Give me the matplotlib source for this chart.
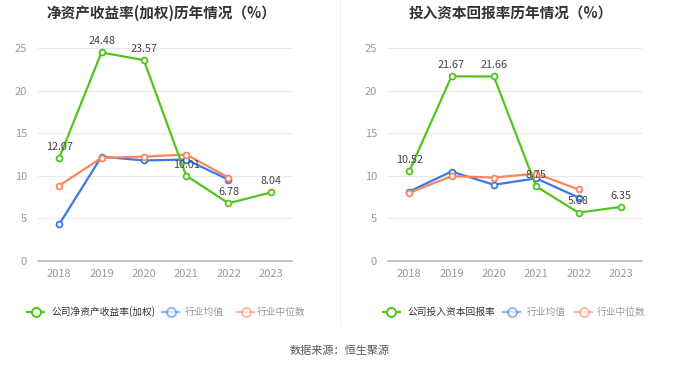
import matplotlib
matplotlib.use("Agg")
import matplotlib.pyplot as plt
from matplotlib.lines import Line2D

plt.rcParams['font.family'] = ['Noto Sans CJK SC', 'DejaVu Sans']

years = ["2018", "2019", "2020", "2021", "2022", "2023"]

roe_company = [12.07, 24.48, 23.57, 10.01, 6.78, 8.04]
roe_avg = [4.3, 12.25, 11.8, 11.9, 9.55]
roe_median = [8.85, 12.1, 12.25, 12.5, 9.8]

roic_company = [10.52, 21.67, 21.66, 8.75, 5.68, 6.35]
roic_avg = [8.15, 10.5, 8.95, 9.7, 7.45]
roic_median = [8.0, 9.95, 9.8, 10.25, 8.4]

titles = ["净资产收益率(加权)历年情况（%）", "投入资本回报率历年情况（%）"]
legend_labels = [["公司净资产收益率(加权)", "行业均值", "行业中位数"],
                 ["公司投入资本回报率", "行业均值", "行业中位数"]]
source = "数据来源：恒生聚源"

GREEN = "#52c41a"
BLUE = "#3a78e8"
ORANGE = "#f5875e"

W, H = 680, 367
fig = plt.figure(figsize=(6.8, 3.67), dpi=100)


def px(x, y):
    return x / W, 1 - y / H


panels = [
    (38, 292, roe_company, roe_avg, roe_median),
    (388, 642, roic_company, roic_avg, roic_median),
]

for i, (x0, x1, comp, avg, med) in enumerate(panels):
    ax = fig.add_axes([x0 / W, 1 - 261 / H, (x1 - x0) / W, (261 - 48) / H])
    xs = list(range(len(years)))
    for vals, c in [(avg, BLUE), (med, ORANGE), (comp, GREEN)]:
        ax.plot(xs[:len(vals)], vals, color=c, lw=1.6, marker="o", ms=4.2,
                mfc="white", mec=c, mew=1.3, clip_on=False, zorder=3)
    for x, v in zip(xs, comp):
        ax.annotate(f"{v:.2f}", (x, v), xytext=(0, 8), textcoords="offset points",
                    ha="center", va="center", fontsize=7.8, color="#444",
                    zorder=5, annotation_clip=False)
    ax.set_xlim(-0.5, len(years) - 0.5)
    ax.set_ylim(0, 25)
    ax.set_yticks([0, 5, 10, 15, 20, 25])
    ax.set_xticks(xs)
    ax.set_xticklabels(years)
    ax.tick_params(axis="both", length=0, labelsize=8, labelcolor="#999")
    ax.tick_params(axis="x", pad=6)
    ax.tick_params(axis="y", pad=8)
    ax.grid(axis="y", color="#e6eaf3", lw=0.8)
    ax.set_axisbelow(True)
    for s in ["top", "right", "left"]:
        ax.spines[s].set_visible(False)
    ax.spines["bottom"].set_color("#bbb")
    ax.spines["bottom"].set_linewidth(1.2)

    cx = (161, 511)[i]
    fig.text(*px(cx, 13), titles[i], ha="center", va="center",
             fontsize=10.5, fontweight="bold", color="#333")

# legends
legend_pos = [[(27, 51), (162, 185), (237, 257)],
              [(383, 408), (503, 527), (575, 597)]]
colors = [GREEN, BLUE, ORANGE]
for i in range(2):
    for j, ((ix, tx), c) in enumerate(zip(legend_pos[i], colors)):
        alpha = 1.0 if j == 0 else 0.55
        ly = 312
        fig.add_artist(Line2D([ix / W, (ix + 17) / W], [1 - ly / H] * 2,
                              color=c, lw=1.6, alpha=alpha))
        fig.add_artist(Line2D([(ix + 8.5) / W], [1 - ly / H], marker="o", ms=6.5,
                              mfc="white", mec=c, mew=1.4, alpha=alpha, lw=0))
        fig.text(*px(tx, ly), legend_labels[i][j], ha="left", va="center",
                 fontsize=7, color="#333" if j == 0 else "#999")

# divider
fig.add_artist(Line2D([340 / W] * 2, [1 - 325 / H, 1.0], color="#f0f0f0", lw=1))

fig.text(*px(340, 351), source, ha="center", va="center", fontsize=8, color="#555")

fig.savefig("out.png", dpi=100, facecolor="white")
